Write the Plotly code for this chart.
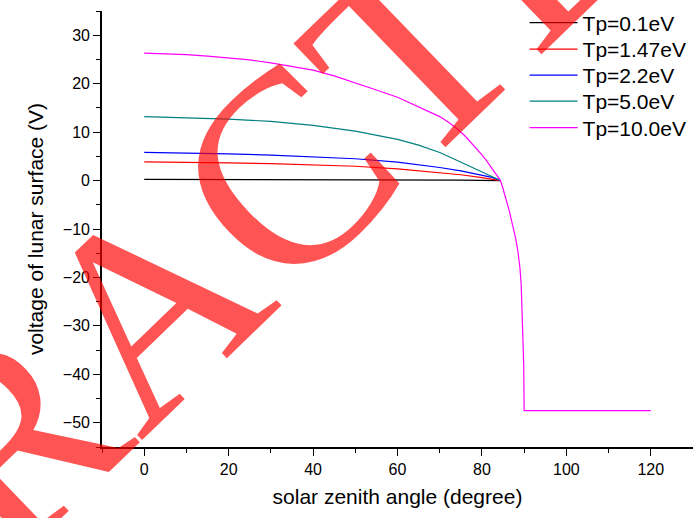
import plotly.graph_objects as go

# ---- data ----
series_names = ["Tp=0.1eV", "Tp=1.47eV", "Tp=2.2eV", "Tp=5.0eV", "Tp=10.0eV"]
series_colors = ["#000000", "#FF0000", "#0000FF", "#008080", "#FF00FF"]

angle_01 = [0, 20, 40, 60, 75, 84.4]
volt_01 = [0.26, 0.25, 0.22, 0.17, 0.1, 0.0]

angle_147 = [0, 10, 20, 30, 40, 50, 60, 65, 70, 75, 80, 82.4, 84.4]
volt_147 = [3.85, 3.8, 3.65, 3.5, 3.3, 2.95, 2.4, 2.0, 1.65, 1.2, 0.6, 0.35, 0.0]

angle_22 = [0, 10, 20, 30, 40, 50, 60, 65, 70, 75, 80, 82.4, 84.4]
volt_22 = [5.8, 5.7, 5.5, 5.25, 4.9, 4.5, 3.8, 3.3, 2.7, 2.0, 1.1, 0.65, 0.0]

angle_50 = [0, 10, 20, 30, 40, 50, 60, 65, 70, 73, 76, 79, 82, 84.4]
volt_50 = [13.2, 13.0, 12.7, 12.2, 11.4, 10.2, 8.5, 7.3, 5.8, 4.6, 3.4, 2.2, 1.0, 0.0]

angle_100 = [0, 5, 10, 15, 20, 25, 30, 35, 40, 45, 50, 55, 60, 65, 70, 72, 74, 76, 78, 80,
             81, 82, 83, 84, 84.4, 85, 85.5, 86, 86.5, 87, 87.5, 88, 88.5, 89, 89.3, 89.5,
             89.7, 89.8, 89.9, 90, 120]
volt_100 = [26.3, 26.2, 26.0, 25.7, 25.3, 24.9, 24.3, 23.6, 22.8, 21.6, 20.2, 18.7, 17.2,
            15.2, 13.2, 12.1, 10.8, 9.2, 7.3, 5.3, 4.2, 3.0, 1.8, 0.5, 0.0, -1.7, -3.1,
            -4.6, -6.3, -8.2, -10.0, -12.0, -14.5, -18.0, -21.5, -26.0, -30.0, -33.0,
            -38.0, -47.5, -47.5]

x_tick_vals = [0, 20, 40, 60, 80, 100, 120]
y_tick_vals = [-50, -40, -30, -20, -10, 0, 10, 20, 30]

watermark_text = "RETRACTED"

series_x = [angle_01, angle_147, angle_22, angle_50, angle_100]
series_y = [volt_01, volt_147, volt_22, volt_50, volt_100]

legend_ids = ["legend", "legend2", "legend3", "legend4", "legend5"]

fig = go.Figure()
for name, color, xs, ys, lg in zip(series_names, series_colors, series_x, series_y, legend_ids):
    fig.add_trace(go.Scatter(x=xs, y=ys, mode="lines", name=name, legend=lg,
                             line=dict(color=color, width=1.2)))

axis_font = dict(family="Liberation Sans, Arial, sans-serif", size=16, color="#000000")
title_font = dict(family="Liberation Sans, Arial, sans-serif", size=21, color="#000000")
legend_font = dict(family="Liberation Sans, Arial, sans-serif", size=21, color="#000000")

# one legend box per entry so each row sits where the reference puts it
PLOT_TOP, PLOT_H = 11, 436
row_px = [23, 49.5, 75.5, 101.5, 128]
legend_layout = {}
for lg, yc in zip(legend_ids, row_px):
    legend_layout[lg] = dict(x=0.715, y=(PLOT_TOP + PLOT_H - yc) / PLOT_H,
                             xanchor="left", yanchor="middle",
                             bgcolor="rgba(0,0,0,0)", borderwidth=0,
                             font=legend_font, itemwidth=48, tracegroupgap=0)

fig.update_layout(
    width=693, height=518,
    margin=dict(l=102, r=0, t=11, b=71),
    paper_bgcolor="white", plot_bgcolor="white",
    showlegend=True,
    xaxis=dict(range=[-10, 130], showgrid=False, zeroline=False,
               showline=True, linecolor="#000000", linewidth=1.6,
               ticks="outside", ticklen=7, tickwidth=1.4, tickcolor="#000000",
               tickvals=x_tick_vals, tickfont=axis_font,
               minor=dict(ticks="outside", ticklen=4, tickwidth=1.4, tickcolor="#000000",
                          dtick=10, tick0=0),
               title=dict(text="solar zenith angle (degree)", font=title_font, standoff=12)),
    yaxis=dict(range=[-55, 35], showgrid=False, zeroline=False,
               showline=True, linecolor="#000000", linewidth=1.6,
               ticks="outside", ticklen=7, tickwidth=1.4, tickcolor="#000000",
               tickvals=y_tick_vals, tickfont=axis_font,
               minor=dict(ticks="outside", ticklen=4, tickwidth=1.4, tickcolor="#000000",
                          dtick=5, tick0=0),
               title=dict(text="voltage of lunar surface (V)", font=title_font, standoff=14)),
    **legend_layout,
)

fig.add_annotation(x=1.9, y=-24.9, xref="x", yref="y", text=watermark_text,
                   showarrow=False, textangle=-44,
                   font=dict(family="Liberation Serif, Times New Roman, serif", size=275,
                             color="rgba(255,0,0,0.67)"))

fig.write_html("out.html", config={"displayModeBar": False},
               post_script="document.body.style.margin='0';document.body.style.padding='0';")
